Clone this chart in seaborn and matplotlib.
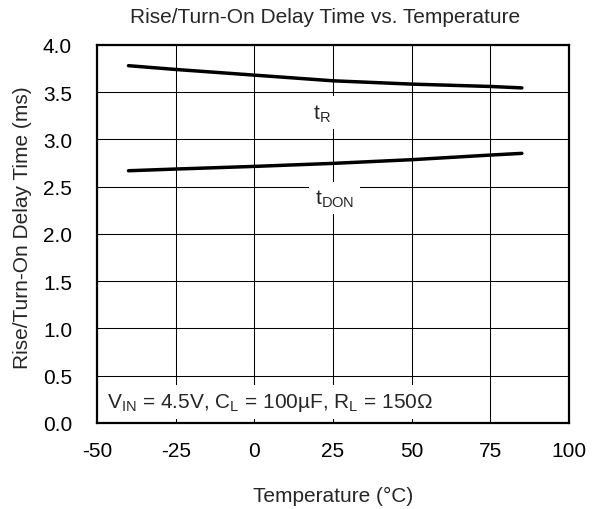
import numpy as np
import pandas as pd
import matplotlib
matplotlib.use("Agg")
import matplotlib.pyplot as plt
import seaborn as sns

# values
temperature = [-40, -25, 0, 25, 50, 75, 85]
rise_time = [3.78, 3.74, 3.68, 3.62, 3.585, 3.56, 3.545]
turn_on_delay = [2.668, 2.686, 2.714, 2.746, 2.785, 2.834, 2.852]
x_ticks = [-50, -25, 0, 25, 50, 75, 100]
y_ticks = [0.0, 0.5, 1.0, 1.5, 2.0, 2.5, 3.0, 3.5, 4.0]

sns.set_style("white")
plt.rcParams['font.family'] = ['Liberation Sans', 'DejaVu Sans']
FS = 15

df = pd.DataFrame({
    'Temperature': temperature * 2,
    'Time': rise_time + turn_on_delay,
    'Series': ['tR'] * len(temperature) + ['tDON'] * len(temperature),
})

fig = plt.figure(figsize=(5.99, 5.10), dpi=100)
ax = fig.add_axes([0.162, 0.169, 0.788, 0.741])

ax.grid(True, color='black', linewidth=0.75)
ax.set_axisbelow(True)
sns.lineplot(data=df, x='Temperature', y='Time', units='Series', estimator=None,
             color='black', linewidth=2.5, solid_capstyle='round', ax=ax, zorder=3)

ax.set_xlim(-50, 100)
ax.set_ylim(0, 4)
ax.set_xticks(x_ticks)
ax.set_yticks(y_ticks)
ax.set_xticklabels([str(v) for v in x_ticks])
ax.set_yticklabels([f"{v:.1f}" for v in y_ticks])
ax.tick_params(axis='both', length=0, labelsize=FS, colors='black')
ax.tick_params(axis='x', pad=13)
ax.tick_params(axis='y', pad=18)
for s in ax.spines.values():
    s.set_visible(True)
    s.set_color('black')
    s.set_linewidth(1.6)

ax.set_xlabel("Temperature (°C)", fontsize=FS)
ax.set_ylabel("Rise/Turn-On Delay Time (ms)", fontsize=FS)
ax.xaxis.set_label_coords(0.5, -0.166)
ax.yaxis.set_label_coords(-0.138, 0.518)
fig.text(0.543, 0.966, "Rise/Turn-On Delay Time vs. Temperature", fontsize=FS,
         ha='center', va='center')

box = dict(facecolor='white', edgecolor='none', pad=4)
ax.text(21.5, 3.28, r"t$_\mathregular{R}$", fontsize=FS, ha='center', va='center', bbox=box, zorder=4)
ax.text(25.5, 2.38, r"t$_\mathregular{DON}$", fontsize=FS, ha='center', va='center', bbox=box, zorder=4)
ax.text(-46.8, 0.22,
        r"V$_\mathregular{IN}$ = 4.5V, C$_\mathregular{L}$ = 100µF, R$_\mathregular{L}$ = 150Ω",
        fontsize=FS, ha='left', va='center',
        bbox=dict(facecolor='white', edgecolor='none', pad=4), zorder=4)

fig.savefig("out.png", dpi=100)
